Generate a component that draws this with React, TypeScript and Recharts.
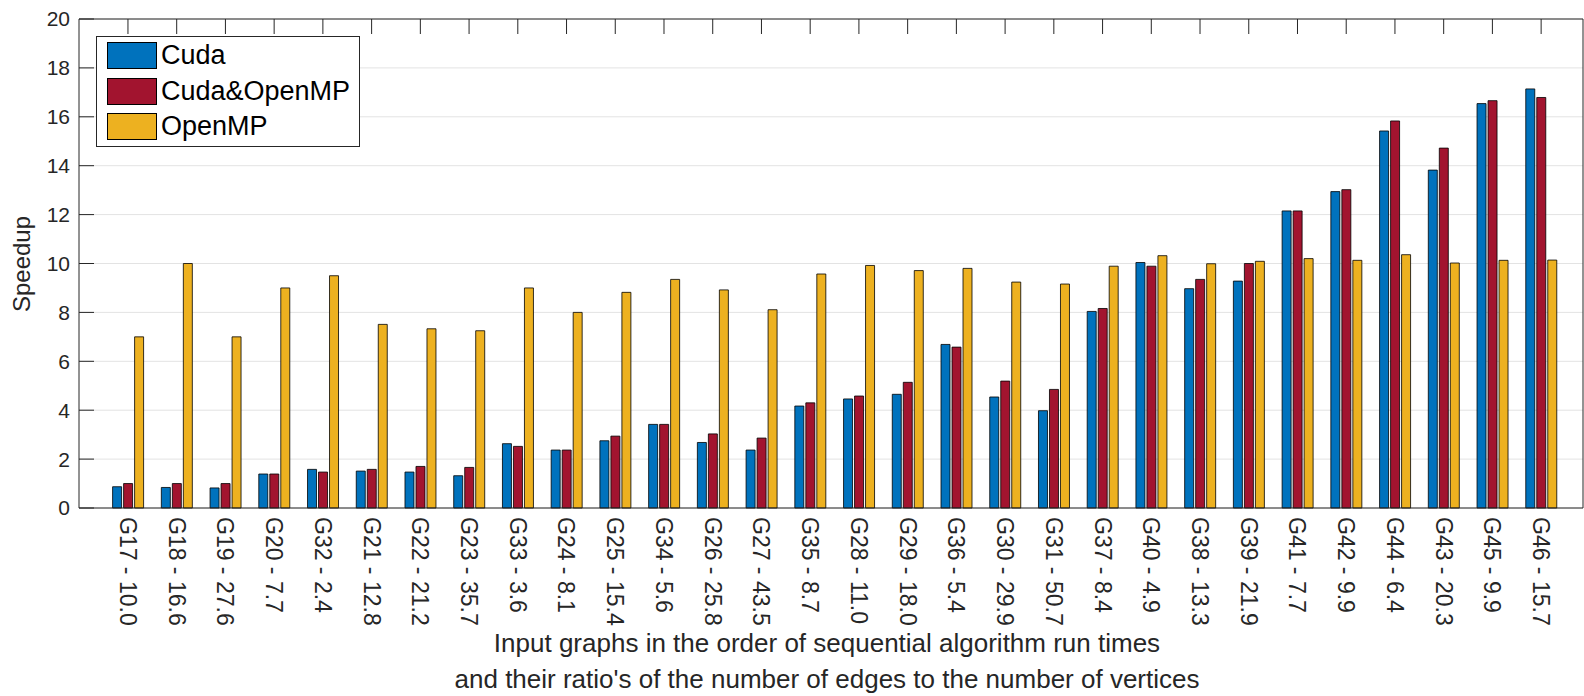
import React from "react";
import {
    BarChart,
    Bar,
    XAxis,
    YAxis,
    CartesianGrid,
    Label,
} from "recharts";

// graph id - edge/vertex ratio, in order of sequential run time
const categories = [
    "G17 - 10.0", "G18 - 16.6", "G19 - 27.6", "G20 - 7.7", "G32 - 2.4",
    "G21 - 12.8", "G22 - 21.2", "G23 - 35.7", "G33 - 3.6", "G24 - 8.1",
    "G25 - 15.4", "G34 - 5.6", "G26 - 25.8", "G27 - 43.5", "G35 - 8.7",
    "G28 - 11.0", "G29 - 18.0", "G36 - 5.4", "G30 - 29.9", "G31 - 50.7",
    "G37 - 8.4", "G40 - 4.9", "G38 - 13.3", "G39 - 21.9", "G41 - 7.7",
    "G42 - 9.9", "G44 - 6.4", "G43 - 20.3", "G45 - 9.9", "G46 - 15.7",
];

const cuda = [
    0.87, 0.84, 0.82, 1.39, 1.58, 1.51, 1.47, 1.32, 2.63, 2.37,
    2.75, 3.42, 2.68, 2.37, 4.17, 4.46, 4.65, 6.69, 4.54, 3.98,
    8.04, 10.04, 8.97, 9.28, 12.15, 12.94, 15.42, 13.82, 16.54, 17.14,
];

const cudaOpenMP = [
    1.0, 1.0, 1.0, 1.39, 1.47, 1.58, 1.7, 1.66, 2.52, 2.37,
    2.94, 3.42, 3.03, 2.86, 4.3, 4.58, 5.14, 6.58, 5.19, 4.85,
    8.16, 9.89, 9.35, 10.0, 12.15, 13.02, 15.83, 14.72, 16.66, 16.79,
];

const openMP = [
    7.0, 10.0, 7.0, 9.0, 9.5, 7.51, 7.33, 7.25, 9.0, 8.0,
    8.82, 9.35, 8.92, 8.11, 9.57, 9.92, 9.71, 9.8, 9.24, 9.16,
    9.89, 10.32, 9.99, 10.09, 10.2, 10.13, 10.36, 10.02, 10.13, 10.14,
];

const yTicks = [0, 2, 4, 6, 8, 10, 12, 14, 16, 18, 20];

const series = [
    { key: "cuda", name: "Cuda", color: "#0072BD" },
    { key: "both", name: "Cuda&OpenMP", color: "#A2142F" },
    { key: "omp", name: "OpenMP", color: "#EDB120" },
];

const FONT = "'Liberation Sans', Arial, Helvetica, sans-serif";
const INK = "#262626";

const data = categories.map((name, i) => ({
    name,
    cuda: cuda[i],
    both: cudaOpenMP[i],
    omp: openMP[i],
}));

const xPadding = { left: 24.6, right: 17.5 };

function XTick(props: any) {
    const { x, y, payload } = props;
    return (
        <g transform={`translate(${x},${y + 9})`}>
            <text
                transform="rotate(90)"
                x={0}
                y={0}
                dy="0.35em"
                textAnchor="start"
                fontSize={23}
                fontFamily={FONT}
                fill={INK}
            >
                {payload.value}
            </text>
        </g>
    );
}

const NoTick = () => <g />;

export default function App() {
    return (
        <div style={{ position: "absolute", left: 0, top: 0, width: 1584, height: 696, background: "#fff" }}>
            <BarChart
                width={1584}
                height={696}
                data={data}
                margin={{ top: 0, right: 0, left: 0, bottom: 0 }}
                barSize={9}
                barGap={2}
            >
                <CartesianGrid vertical={false} stroke="#e3e3e3" strokeWidth={1} />
                <XAxis
                    dataKey="name"
                    interval={0}
                    height={188}
                    padding={xPadding}
                    tickLine={false}
                    tickSize={0}
                    tickMargin={0}
                    axisLine={{ stroke: INK }}
                    tick={<XTick />}
                >
                    <Label
                        content={(p: any) => {
                            const vb = p.viewBox || {};
                            const cx = vb.x + vb.width / 2;
                            return (
                                <g fontFamily={FONT} fontSize={26} fill={INK}>
                                    <text x={cx - 4} y={652} textAnchor="middle">
                                        Input graphs in the order of sequential algorithm run times
                                    </text>
                                    <text x={cx - 4} y={688} textAnchor="middle">
                                        and their ratio's of the number of edges to the number of vertices
                                    </text>
                                </g>
                            );
                        }}
                    />
                </XAxis>
                <XAxis
                    xAxisId="top"
                    orientation="top"
                    dataKey="name"
                    interval={0}
                    height={19}
                    padding={xPadding}
                    tickSize={-15}
                    tickLine={{ stroke: INK }}
                    axisLine={{ stroke: INK }}
                    tick={NoTick}
                />
                <YAxis
                    domain={[0, 20]}
                    ticks={yTicks}
                    width={79}
                    interval={0}
                    tickSize={-15}
                    tickMargin={24}
                    tickLine={{ stroke: INK }}
                    axisLine={{ stroke: INK }}
                    tick={{ fontSize: 21, fill: INK, fontFamily: FONT }}
                >
                    <Label
                        content={() => (
                            <text
                                x={0}
                                y={0}
                                transform="translate(30,264) rotate(-90)"
                                textAnchor="middle"
                                fontSize={24}
                                fontFamily={FONT}
                                fill={INK}
                            >
                                Speedup
                            </text>
                        )}
                    />
                </YAxis>
                <YAxis
                    yAxisId="right"
                    orientation="right"
                    domain={[0, 20]}
                    ticks={yTicks}
                    width={1}
                    interval={0}
                    tickSize={-15}
                    tickLine={{ stroke: INK }}
                    axisLine={{ stroke: INK }}
                    tick={NoTick}
                />
                {series.map((s) => (
                    <Bar
                        key={s.key}
                        dataKey={s.key}
                        name={s.name}
                        fill={s.color}
                        stroke="#000"
                        strokeWidth={0.8}
                        isAnimationActive={false}
                    />
                ))}
            </BarChart>

            {/* legend box, top-left inside the axes */}
            <div
                style={{
                    position: "absolute",
                    left: 96,
                    top: 36,
                    width: 264,
                    height: 111,
                    border: `1px solid ${INK}`,
                    background: "#fff",
                    fontFamily: FONT,
                    fontSize: 27,
                    color: "#000",
                    boxSizing: "border-box",
                    paddingTop: 1,
                }}
            >
                {series.map((s) => (
                    <div key={s.key} style={{ display: "flex", alignItems: "center", height: 35.5, paddingLeft: 10 }}>
                        <span
                            style={{
                                display: "inline-block",
                                width: 50,
                                height: 27,
                                background: s.color,
                                border: "1px solid #000",
                                boxSizing: "border-box",
                                marginRight: 4,
                            }}
                        />
                        <span>{s.name}</span>
                    </div>
                ))}
            </div>
        </div>
    );
}
